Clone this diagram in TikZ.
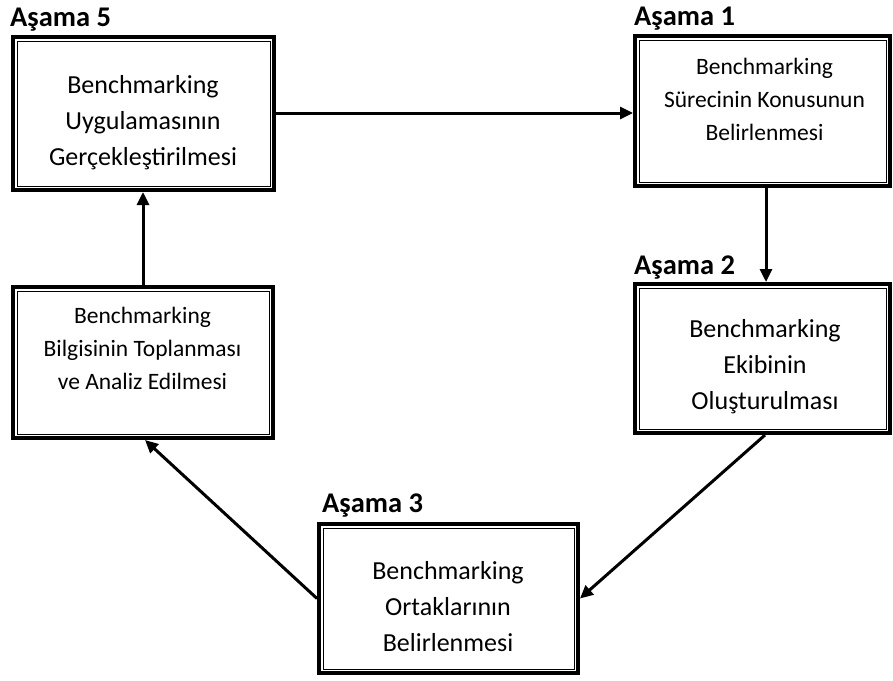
\documentclass[tikz,border=0pt]{standalone}
\usepackage{fontspec}
\setmainfont{Carlito}
\usetikzlibrary{arrows.meta}
\begin{document}
\begin{tikzpicture}[x=1pt,y=-1pt,
  stagebox/.style={draw, line width=4pt, inner sep=0pt, fill=white},
  innerframe/.style={line width=0.9pt},
  bigtext/.style={anchor=north, align=center, inner sep=0pt, font=\fontsize{26}{36}\selectfont},
  smalltext/.style={anchor=north, align=center, inner sep=0pt, font=\fontsize{23.5}{33}\selectfont},
  stagelabel/.style={anchor=base west, inner sep=0pt, font=\fontsize{28.5}{32}\selectfont\bfseries},
  flow/.style={line width=3pt, -{Triangle[length=13pt,width=12pt]}}
]
\useasboundingbox (0,0) rectangle (893,680);

% boxes
\node[stagebox, minimum width=261pt, minimum height=153pt] (b5) at (143.5,113.5) {};
\node[stagebox, minimum width=255pt, minimum height=150pt] (b1) at (762.5,111) {};
\node[stagebox, minimum width=255pt, minimum height=149pt] (b2) at (762.5,358.5) {};
\node[stagebox, minimum width=260pt, minimum height=151pt] (b4) at (143,362.5) {};
\node[stagebox, minimum width=259pt, minimum height=149pt] (b3) at (448.5,598.5) {};

\foreach \n in {b1,b2,b3,b4,b5}{
  \draw[innerframe] ([shift={(6pt,-6pt)}]\n.north west) rectangle ([shift={(-6pt,6pt)}]\n.south east);
}

% texts
\node[bigtext] (t5) at (143,75) {Benchmarking\\Uygulamasının\\Gerçekleştirilmesi};
\node[smalltext] (t1) at (764.5,57.8) {Benchmarking\\Sürecinin Konusunun\\Belirlenmesi};
\node[bigtext] (t2) at (765,319) {Benchmarking\\Ekibinin\\Oluşturulması};
\node[smalltext] (t4) at (142.5,306.8) {Benchmarking\\Bilgisinin Toplanması\\ve Analiz Edilmesi};
\node[bigtext] (t3) at (448,561) {Benchmarking\\Ortaklarının\\Belirlenmesi};

% labels
\node[stagelabel] (l5) at (10,26) {Aşama 5};
\node[stagelabel] (l1) at (634,25) {Aşama 1};
\node[stagelabel] (l2) at (634,274) {Aşama 2};
\node[stagelabel] (l3) at (322,512) {Aşama 3};

% connectors
\draw[flow] (b5.east |- 0,113) -- (b1.west |- 0,113);
\draw[flow] ([xshift=3.5pt]b1.south) -- ([xshift=3.5pt]b1.south |- b2.north);
\draw[flow] ([xshift=2.5pt]b2.south) -- (b3.east);
\draw[flow] (b3.west) -- ([xshift=2pt]b4.south);
\draw[flow] (b4.north) -- (b4.north |- b5.south);
\end{tikzpicture}
\end{document}
